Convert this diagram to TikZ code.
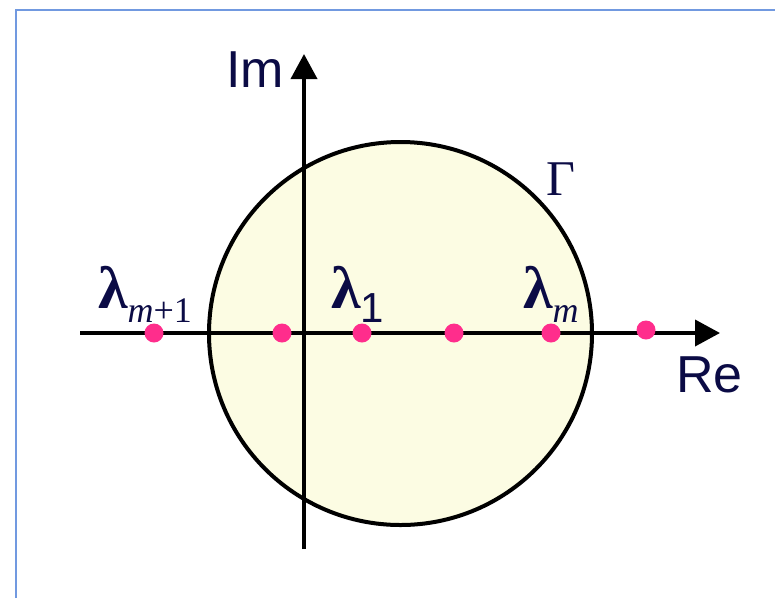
\documentclass[tikz,border=0pt]{standalone}
\usepackage{fontspec}
\setmainfont{Liberation Serif}
\setsansfont{Liberation Sans}
\usetikzlibrary{arrows.meta,positioning}

\definecolor{frameblue}{HTML}{7199E0}
\definecolor{discfill}{HTML}{FCFCE3}
\definecolor{eigpink}{HTML}{FF2D8C}
\definecolor{labelnavy}{HTML}{0B0B45}

\newcommand{\lam}{{\fontsize{60}{62}\selectfont\bfseries λ}}
\newcommand{\lsub}[2][36]{\raisebox{-14pt}{\fontsize{#1}{#1}\selectfont #2}}

\begin{document}
\begin{tikzpicture}[
  x=1pt, y=-1pt,
  axis/.style={line width=3.8pt, -{Triangle[length=25pt,width=26pt]}},
  eig/.style={circle, fill=eigpink, inner sep=0pt, minimum size=19pt},
  lab/.style={text=labelnavy, inner sep=0pt},
  axlab/.style={lab, font=\sffamily\fontsize{52}{54}\selectfont}
]
\useasboundingbox (0,0) rectangle (775,598);
% frame
\draw[frameblue, line width=2.6pt] (16,598) -- (16,10) -- (775,10);
% contour
\filldraw[fill=discfill, line width=4pt] (400.5,333.5) circle[radius=191.5];
% axes
\coordinate (xl) at (80,333);
\coordinate (xr) at (720,333);
\coordinate (yb) at (304,549);
\coordinate (yt) at (304,54);
\draw[axis] (xl) -- (xr);
\draw[axis] (yb) -- (yt);
\node[axlab, anchor=base east] (im) at (284,87) {Im};
\node[axlab, anchor=base west] (re) at (676,392) {Re};
\node[lab, anchor=base west, font=\fontsize{50}{52}\selectfont] (gamma) at (546,195) {Γ};
% eigenvalues
\node[eig] (e1) at (154,333) {};
\node[eig] (e2) at (282,333) {};
\node[eig] (e3) at (362,333) {};
\node[eig] (e4) at (454,333) {};
\node[eig] (e5) at (551,333) {};
\node[eig] (e6) at (646,330) {};
\node[lab, anchor=base west] (lmp) at (98,308) {\lam\lsub{\textit{m}+1}};
\node[lab, anchor=base west] (l1) at (331,308) {\lam\lsub[42]{\sffamily 1}};
\node[lab, anchor=base west] (lm) at (523,308) {\lam\lsub{\textit{m}}};
\end{tikzpicture}
\end{document}
